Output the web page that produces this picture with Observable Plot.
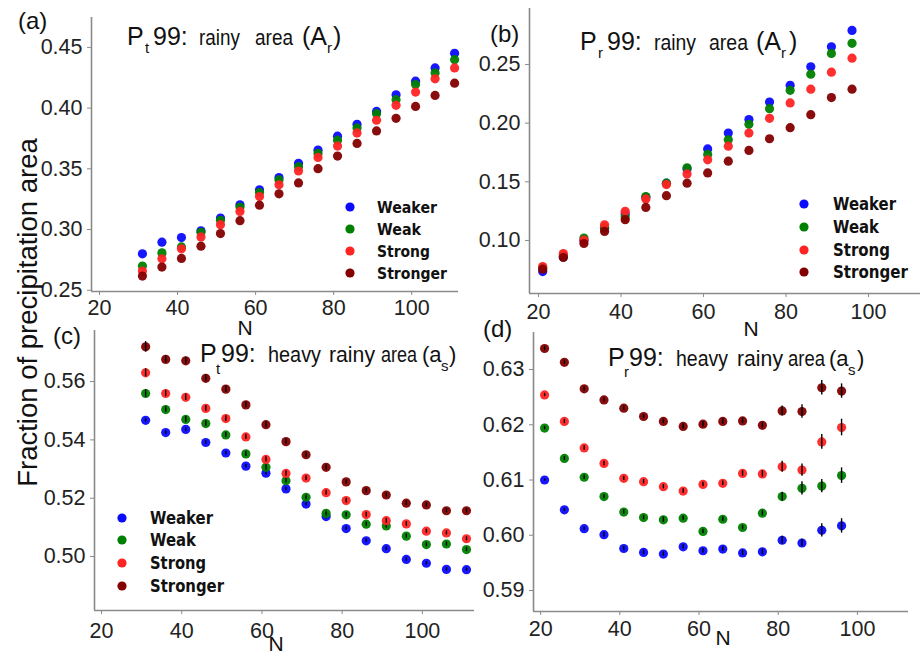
<!DOCTYPE html>
<html>
<head>
<meta charset="utf-8">
<script src="https://cdn.jsdelivr.net/npm/d3@7"></script>
<script src="https://cdn.jsdelivr.net/npm/@observablehq/plot@0.6"></script>
<style>
  html, body { margin: 0; padding: 0; background: #fff; }
  #wrap { position: relative; width: 922px; height: 654px; background: #fff; overflow: hidden; }
  #overlay { left: 0; top: 0; pointer-events: none; }
</style>
</head>
<body>
<div id="wrap"></div>
<script>
// ---------------- data ----------------
const seriesNames = ["Weaker", "Weak", "Strong", "Stronger"];
const seriesColors = ["#0a0aff", "#008000", "#ff2424", "#840000"];
const xTicks = [20, 40, 60, 80, 100];

// (a) Pt99 rainy area
const aN = [31, 36, 41, 46, 51, 56, 61, 66, 71, 76, 81, 86, 91, 96, 101, 106, 111];
const aWeaker   = [0.280, 0.2896, 0.2934, 0.299, 0.3095, 0.3204, 0.3327, 0.3428, 0.3545, 0.3654, 0.3769, 0.3867, 0.3973, 0.411, 0.4222, 0.4331, 0.4451];
const aWeak     = [0.270, 0.2808, 0.2857, 0.2977, 0.3076, 0.3185, 0.3305, 0.3409, 0.3518, 0.3627, 0.3736, 0.3837, 0.3954, 0.4069, 0.4194, 0.429, 0.4399];
const aStrong   = [0.2658, 0.2759, 0.2841, 0.2939, 0.304, 0.3149, 0.3272, 0.3368, 0.3482, 0.3594, 0.3687, 0.3796, 0.390, 0.4023, 0.4132, 0.4241, 0.4331];
const aStronger = [0.2617, 0.2691, 0.2762, 0.2863, 0.2967, 0.3073, 0.3201, 0.3294, 0.3384, 0.3501, 0.3605, 0.3709, 0.3812, 0.3916, 0.4014, 0.4104, 0.4205];
const aYTicks = [0.25, 0.30, 0.35, 0.40, 0.45];

// (b) Pr99 rainy area
const bN = [21, 26, 31, 36, 41, 46, 51, 56, 61, 66, 71, 76, 81, 86, 91, 96];
const bWeaker   = [0.0735, 0.086, 0.100, 0.1105, 0.1225, 0.1368, 0.1488, 0.161, 0.178, 0.1915, 0.203, 0.218, 0.2323, 0.248, 0.265, 0.279];
const bWeak     = [0.077, 0.0877, 0.102, 0.111, 0.120, 0.1374, 0.1488, 0.1619, 0.1733, 0.1858, 0.199, 0.2123, 0.228, 0.2417, 0.2594, 0.268];
const bStrong   = [0.0778, 0.0889, 0.1003, 0.1134, 0.1248, 0.1354, 0.1476, 0.1567, 0.1687, 0.1804, 0.1915, 0.2041, 0.2172, 0.2289, 0.2434, 0.2554];
const bStronger = [0.0755, 0.0855, 0.0974, 0.1077, 0.1177, 0.1282, 0.1382, 0.1488, 0.1576, 0.1676, 0.1767, 0.1867, 0.1961, 0.2072, 0.2218, 0.2289];
const bYTicks = [0.10, 0.15, 0.20, 0.25];

// (c) Pt99 heavy rainy area
const cN = [31, 36, 41, 46, 51, 56, 61, 66, 71, 76, 81, 86, 91, 96, 101, 106, 111];
const cWeaker   = [0.5467, 0.5425, 0.5436, 0.5391, 0.5355, 0.531, 0.5286, 0.5232, 0.518, 0.5137, 0.5096, 0.5054, 0.5027, 0.499, 0.4977, 0.4956, 0.4955];
const cWeak     = [0.5559, 0.5504, 0.547, 0.5456, 0.5417, 0.5352, 0.5306, 0.526, 0.5203, 0.5148, 0.5143, 0.5111, 0.5105, 0.507, 0.5041, 0.5043, 0.5024];
const cStrong   = [0.563, 0.5559, 0.5546, 0.5508, 0.5473, 0.541, 0.5333, 0.5285, 0.5269, 0.5219, 0.5192, 0.5144, 0.5123, 0.5112, 0.5087, 0.5081, 0.5061];
const cStronger = [0.5719, 0.5676, 0.5671, 0.5611, 0.5574, 0.552, 0.5452, 0.5394, 0.5349, 0.5306, 0.5256, 0.5226, 0.5211, 0.5183, 0.5177, 0.5157, 0.5157];
const cErrWeaker   = [0.0006, 0.0006, 0.0006, 0.0006, 0.0006, 0.0006, 0.0006, 0.0006, 0.0006, 0.0008, 0.0006, 0.0006, 0.0006, 0.0006, 0.0006, 0.0006, 0.0006];
const cErrWeak     = [0.0013, 0.001, 0.001, 0.001, 0.0009, 0.0009, 0.0009, 0.0008, 0.0008, 0.0008, 0.0008, 0.0007, 0.0007, 0.0007, 0.0007, 0.0007, 0.0007];
const cErrStrong   = [0.0014, 0.0011, 0.0011, 0.001, 0.001, 0.0009, 0.0009, 0.0009, 0.0008, 0.0008, 0.0008, 0.0008, 0.0008, 0.0008, 0.0007, 0.0007, 0.0007];
const cErrStronger = [0.0018, 0.0012, 0.0012, 0.0012, 0.0011, 0.001, 0.001, 0.0009, 0.0009, 0.0009, 0.0008, 0.0008, 0.0008, 0.0008, 0.0008, 0.0008, 0.0008];
const cYTicks = [0.50, 0.52, 0.54, 0.56];

// (d) Pr99 heavy rainy area
const dN = [21, 26, 31, 36, 41, 46, 51, 56, 61, 66, 71, 76, 81, 86, 91, 96];
const dWeaker   = [0.610, 0.6046, 0.6012, 0.6001, 0.5976, 0.5969, 0.5966, 0.5979, 0.5972, 0.5975, 0.5968, 0.597, 0.5991, 0.5986, 0.6009, 0.6017];
const dWeak     = [0.6194, 0.6139, 0.6105, 0.607, 0.6042, 0.6032, 0.6028, 0.6031, 0.6007, 0.6029, 0.6014, 0.604, 0.607, 0.6085, 0.6089, 0.6108];
const dStrong   = [0.6254, 0.6206, 0.6158, 0.613, 0.6103, 0.6097, 0.6088, 0.608, 0.6092, 0.6094, 0.6112, 0.6111, 0.6124, 0.6118, 0.6169, 0.6195];
const dStronger = [0.6338, 0.6313, 0.6265, 0.6245, 0.623, 0.6215, 0.6206, 0.6197, 0.6201, 0.6206, 0.6207, 0.6199, 0.6225, 0.6224, 0.6267, 0.6261];
const dErrWeaker   = [0.0002, 0.0003, 0.0003, 0.0004, 0.0004, 0.0004, 0.0004, 0.0004, 0.0004, 0.0004, 0.0005, 0.0005, 0.0007, 0.0007, 0.0012, 0.0013];
const dErrWeak     = [0.0003, 0.0004, 0.0004, 0.0004, 0.0004, 0.0004, 0.0005, 0.0004, 0.0004, 0.0004, 0.0004, 0.0005, 0.0008, 0.0012, 0.0012, 0.0014];
const dErrStrong   = [0.0003, 0.0004, 0.0004, 0.0004, 0.0004, 0.0004, 0.0004, 0.0004, 0.0004, 0.0004, 0.0005, 0.0006, 0.001, 0.0011, 0.00135, 0.0015];
const dErrStronger = [0.0004, 0.0004, 0.0004, 0.0004, 0.0004, 0.0004, 0.0004, 0.0005, 0.0005, 0.0005, 0.0005, 0.0005, 0.0009, 0.0012, 0.0013, 0.0013];
const dYTicks = [0.59, 0.60, 0.61, 0.62, 0.63];

// ---------------- rendering ----------------
const wrap = document.getElementById("wrap");
const AXIS = "#8a8a8a";
const TXT = "#222";

function rows(N, vals, errs) {
  return vals.map((v, i) => ({N: N[i], v, e: errs ? errs[i] : 0}));
}

function panel(cfg) {
  const marks = [
    Plot.ruleY([cfg.ydom[0]], {stroke: AXIS, strokeWidth: 1.6}),
    Plot.ruleX([cfg.xdom[0]], {stroke: AXIS, strokeWidth: 1.6}),
    Plot.axisX({ticks: xTicks, tickSize: 4, tickPadding: cfg.xpad, stroke: AXIS, fill: TXT, label: null, tickFormat: d => d}),
    Plot.axisY({ticks: cfg.yticks, tickSize: 4, tickPadding: 5, stroke: AXIS, fill: TXT, label: null, tickFormat: cfg.yfmt})
  ];
  cfg.series.forEach((vals, k) => {
    const data = rows(cfg.N, vals, cfg.errs ? cfg.errs[k] : null);
    marks.push(Plot.dot(data, {x: "N", y: "v", r: 4.6, fill: seriesColors[k], fillOpacity: 0.95, stroke: null}));
    if (cfg.errs) {
      marks.push(Plot.ruleX(data, {x: "N", y1: d => d.v - d.e, y2: d => d.v + d.e, stroke: "#000", strokeWidth: 1.4}));
    }
  });
  const svg = Plot.plot({
    width: cfg.w, height: cfg.h,
    marginLeft: cfg.ml, marginRight: cfg.mr, marginTop: cfg.mt, marginBottom: cfg.mb,
    x: {domain: cfg.xdom},
    y: {domain: cfg.ydom},
    style: {background: "transparent", overflow: "visible", fontFamily: "'Liberation Sans', Arial, sans-serif", fontSize: "21.5px", color: TXT, maxWidth: "none"},
    marks
  });
  svg.style.position = "absolute";
  svg.style.left = cfg.left + "px";
  svg.style.top = cfg.top + "px";
  wrap.appendChild(svg);
}

const f2 = d3.format(".2f");

panel({left: 0, top: 0, w: 461, h: 327, ml: 91, mr: 3, mt: 17, mb: 36,
  xdom: [17.95, 112], ydom: [0.249, 0.4746], yticks: aYTicks, yfmt: f2, xpad: 4,
  N: aN, series: [aWeaker, aWeak, aStrong, aStronger]});

panel({left: 461, top: 0, w: 461, h: 327, ml: 68, mr: 2, mt: 8, mb: 34,
  xdom: [17.8, 112.6], ydom: [0.0548, 0.2977], yticks: bYTicks, yfmt: f2, xpad: 6,
  N: bN, series: [bWeaker, bWeak, bStrong, bStronger]});

panel({left: 0, top: 327, w: 474, h: 327, ml: 94, mr: 0, mt: 3, mb: 44,
  xdom: [18.25, 113], ydom: [0.4815, 0.5775], yticks: cYTicks, yfmt: f2, xpad: 8,
  N: cN, series: [cWeaker, cWeak, cStrong, cStronger],
  errs: [cErrWeaker, cErrWeak, cErrStrong, cErrStronger]});

panel({left: 461, top: 327, w: 461, h: 327, ml: 72, mr: 14, mt: 5, mb: 43,
  xdom: [18.2, 112.9], ydom: [0.5862, 0.6367], yticks: dYTicks, yfmt: f2, xpad: 5,
  N: dN, series: [dWeaker, dWeak, dStrong, dStronger],
  errs: [dErrWeaker, dErrWeak, dErrStrong, dErrStronger]});

// ---------------- annotations overlay ----------------
const NS = "http://www.w3.org/2000/svg";
const ov = document.createElementNS(NS, "svg");
ov.setAttribute("id", "overlay");
ov.setAttribute("width", 922);
ov.setAttribute("height", 654);
ov.style.position = "absolute";
ov.style.left = "0px"; ov.style.top = "0px";
wrap.appendChild(ov);

function txt(s, x, y, size, opts = {}) {
  const t = document.createElementNS(NS, "text");
  t.textContent = s;
  t.setAttribute("x", x);
  t.setAttribute("y", y);
  t.setAttribute("font-size", size);
  t.setAttribute("font-family", opts.family || "'Liberation Sans', Arial, sans-serif");
  t.setAttribute("fill", opts.fill || "#111");
  if (opts.weight) t.setAttribute("font-weight", opts.weight);
  if (opts.anchor) t.setAttribute("text-anchor", opts.anchor);
  if (opts.len) { t.setAttribute("textLength", opts.len); t.setAttribute("lengthAdjust", "spacingAndGlyphs"); }
  if (opts.transform) t.setAttribute("transform", opts.transform);
  ov.appendChild(t);
  return t;
}

// panel labels
txt("(a)", 18, 29, 24);
txt("(b)", 490, 42, 24);
txt("(c)", 53, 344, 24);
txt("(d)", 483, 337, 24);

// titles
function title(p) {
  txt("P", p.x0, p.base, 25);
  txt(p.sub1, p.xs1, p.base + p.sd, 15);
  txt("99:", p.x99, p.base, 25);
  p.words.forEach(w => txt(w[0], w[1], p.base, 22, {len: w[2]}));
  txt(p.open, p.xo, p.base, p.osize);
  txt(p.sub2, p.xs2, p.base + p.sd2, 15);
  txt(")", p.xc, p.base, p.osize);
}
title({x0: 127, base: 45, sub1: "t", xs1: 145, sd: 8, x99: 153,
  words: [["rainy", 199, 41], ["area", 255, 38]], open: "(A", xo: 302, osize: 25, sub2: "r", xs2: 327, sd2: 8, xc: 333});
title({x0: 580, base: 50, sub1: "r", xs1: 598, sd: 8, x99: 607,
  words: [["rainy", 654, 42], ["area", 709, 39]], open: "(A", xo: 756, osize: 25, sub2: "r", xs2: 781, sd2: 8, xc: 789});
title({x0: 200, base: 362, sub1: "t", xs1: 216, sd: 12, x99: 221,
  words: [["heavy", 268, 53], ["rainy", 329, 46], ["area", 381, 36]], open: "(a", xo: 422, osize: 22, sub2: "s", xs2: 441, sd2: 9, xc: 449});
title({x0: 608, base: 366, sub1: "r", xs1: 624, sd: 11, x99: 629,
  words: [["heavy", 676, 52], ["rainy", 737, 46], ["area", 788, 37]], open: "(a", xo: 829, osize: 22, sub2: "s", xs2: 848, sd2: 9, xc: 857});

// x labels "N"
txt("N", 245, 335, 21, {anchor: "middle"});
txt("N", 751, 336, 21, {anchor: "middle"});
txt("N", 276, 651, 21, {anchor: "middle"});
txt("N", 723, 645, 21, {anchor: "middle"});

// shared y label
txt("Fraction of precipitation area", 0, 0, 27.5, {anchor: "middle", transform: "translate(37,312.5) rotate(-90)"});

// legends
function legend(cx, tx, ys, size, lens) {
  seriesNames.forEach((name, k) => {
    const c = document.createElementNS(NS, "circle");
    c.setAttribute("cx", cx); c.setAttribute("cy", ys[k]); c.setAttribute("r", 4.6);
    c.setAttribute("fill", seriesColors[k]);
    ov.appendChild(c);
    txt(name, tx, ys[k] + 6, size, {family: "'DejaVu Sans', Verdana, sans-serif", weight: "bold", fill: "#111", len: lens[k]});
  });
}
legend(350, 377, [207, 229, 251, 273], 16.5, [60, 44, 53, 70]);
legend(804, 833, [204, 227, 250, 272], 17, [63, 46, 57, 75]);
legend(122, 150, [518, 540, 563, 586], 17, [63, 46, 56, 74]);
</script>
</body>
</html>
